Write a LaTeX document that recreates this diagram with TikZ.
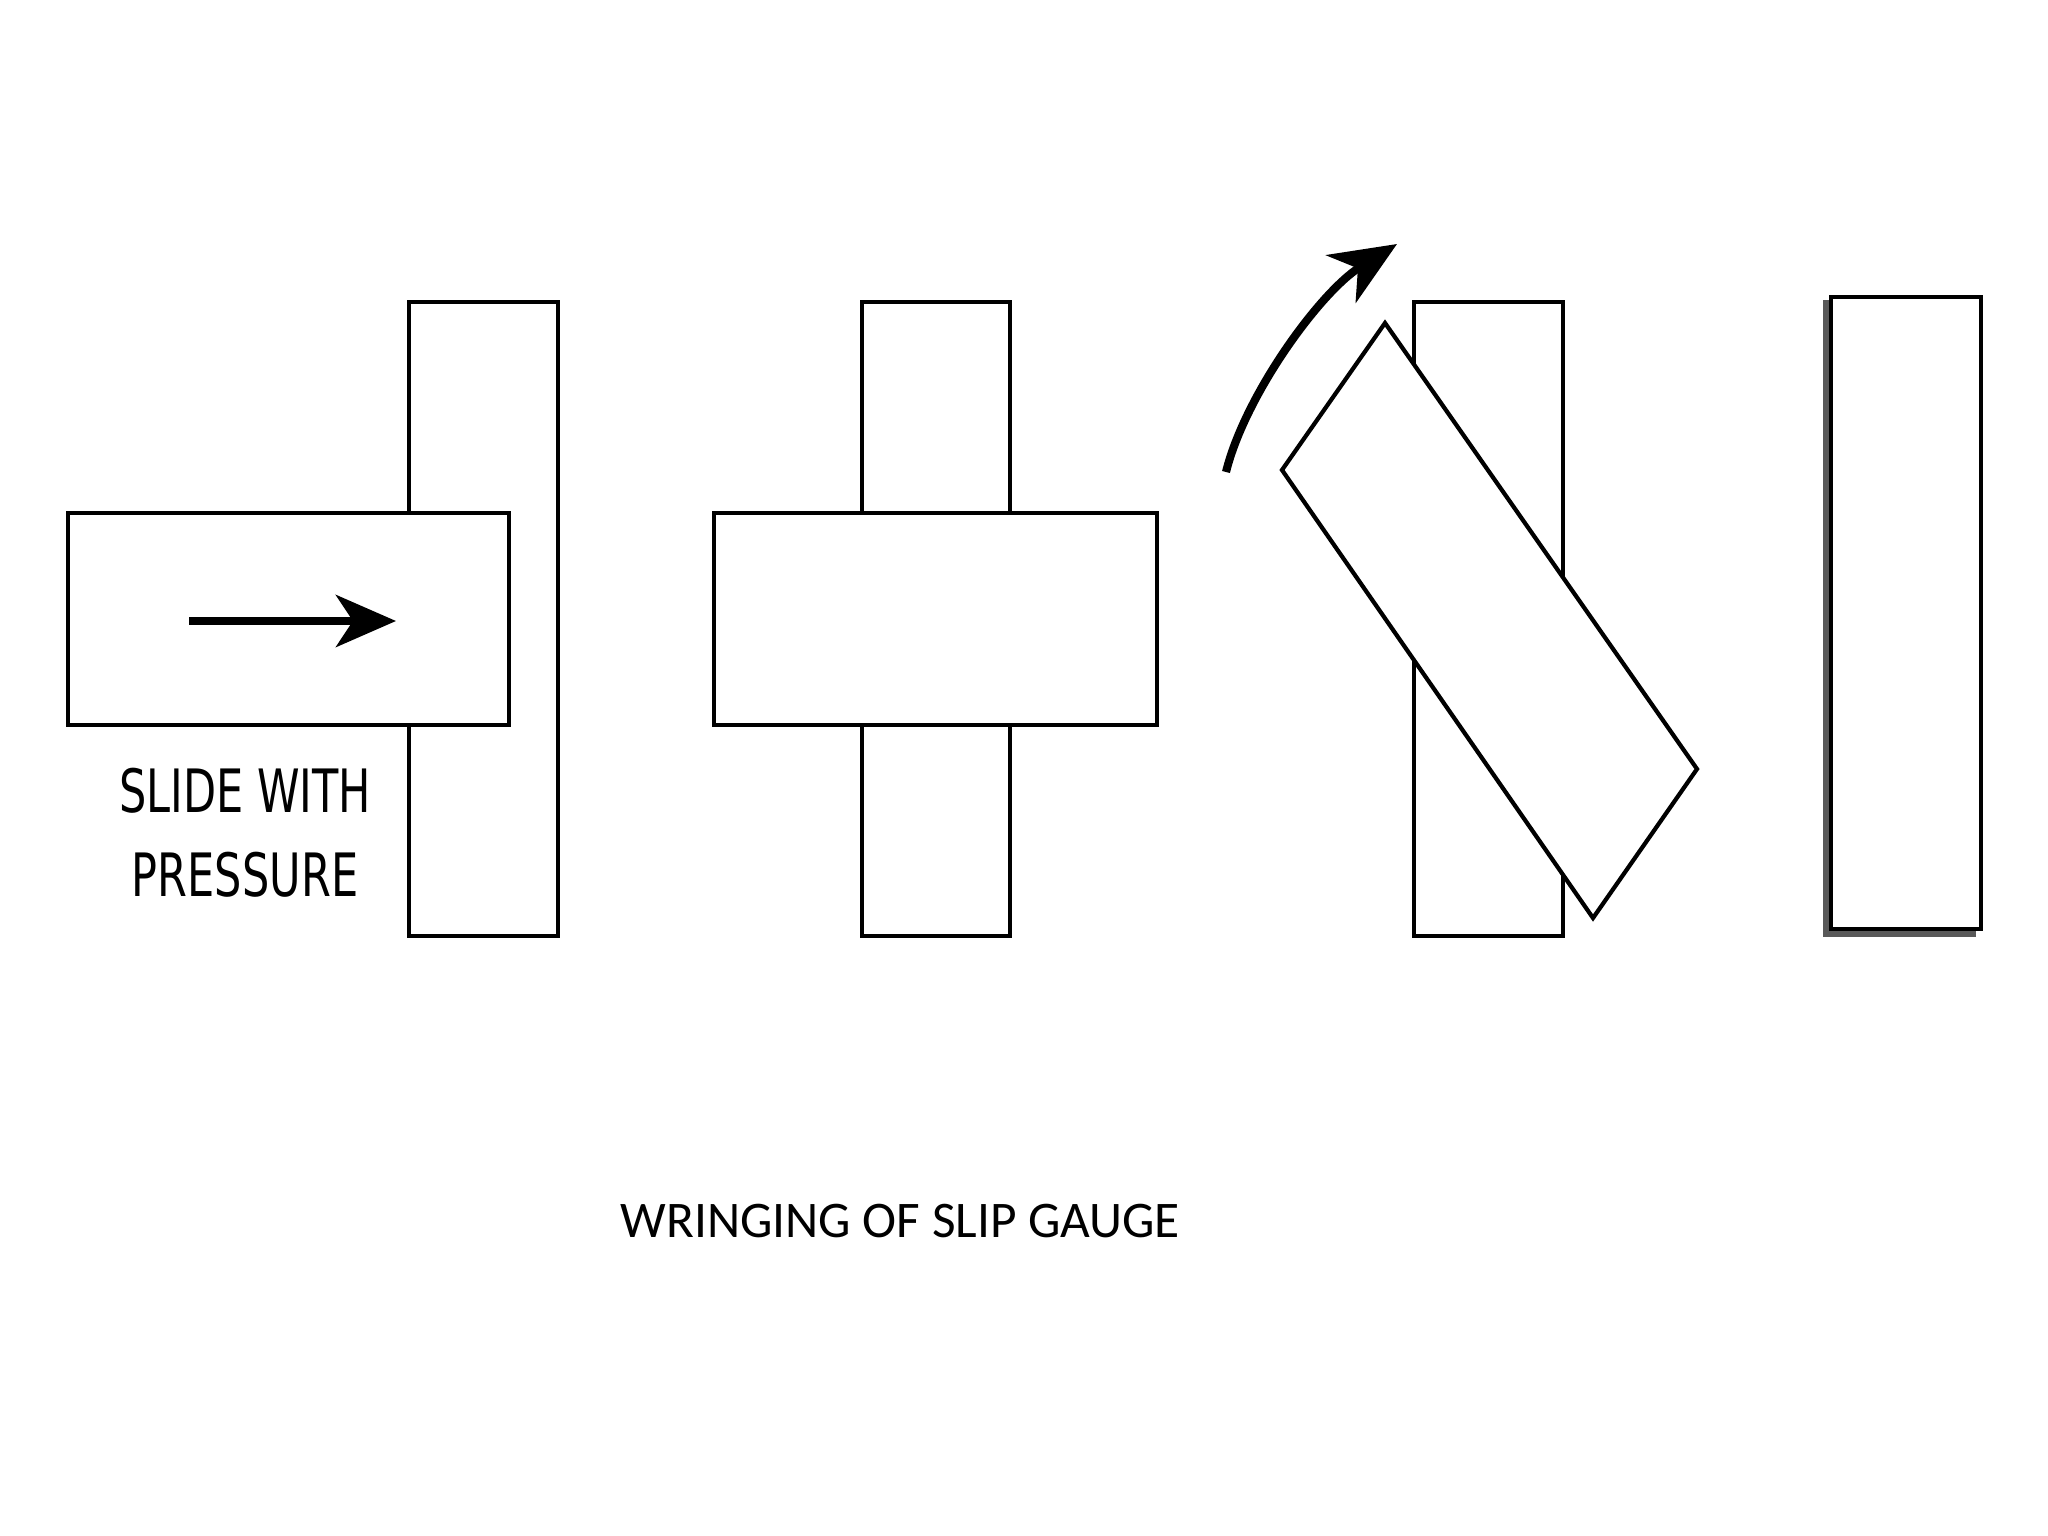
\documentclass[tikz,border=0pt]{standalone}
\usepackage{fontspec}
\usetikzlibrary{arrows.meta}
\newfontfamily\labelfont[FakeStretch=0.72]{DejaVu Sans}
\newfontfamily\titlefont{Carlito}
\tikzset{
  gauge/.style={draw=black, fill=white, line width=1.2pt, line join=miter},
  pusharrow/.style={line width=2.2pt, -{Stealth[length=0.6cm,width=0.52cm,inset=0.17cm]}},
  turnarrow/.style={line width=2.3pt, -{Stealth[length=0.66cm,width=0.56cm,inset=0.2cm]}},
  lbl/.style={font=\labelfont\fontsize{17}{20}\selectfont, anchor=base, inner sep=0pt},
  ttl/.style={font=\titlefont\fontsize{14.6}{18}\selectfont, anchor=base west, inner sep=0pt}
}
\begin{document}
\begin{tikzpicture}[x=0.01cm,y=-0.01cm]
\useasboundingbox (0,0) rectangle (2048,1536);
\fill[white] (0,0) rectangle (2048,1536);
% panel 1
\draw[gauge] (409,302) rectangle (558,936);
\draw[gauge] (68,513) rectangle (509,725);
\coordinate (p1s) at (189,621);
\coordinate (p1e) at (396,621);
\draw[pusharrow] (p1s) -- (p1e);
\node[lbl] (slide) at (245,812) {SLIDE WITH};
\node[lbl] (press) at (245,896) {PRESSURE};
% panel 2
\draw[gauge] (862,302) rectangle (1010,936);
\draw[gauge] (714,513) rectangle (1157,725);
% panel 3
\draw[gauge] (1414,302) rectangle (1563,936);
\draw[gauge] (1385,323) -- (1697,769) -- (1593,918) -- (1282,470) -- cycle;
\coordinate (c3s) at (1226,472);
\coordinate (c3e) at (1397,244);
\draw[turnarrow] (c3s) .. controls (1245,395) and (1320,292) .. (c3e);
% panel 4
\draw[line width=1.8pt, gray!70!black] (1826,300) -- (1826,934) -- (1976,934);
\draw[gauge] (1831,297) rectangle (1981,929);
% title
\node[ttl] (title) at (620,1237) {WRINGING OF SLIP GAUGE};
\end{tikzpicture}
\end{document}
